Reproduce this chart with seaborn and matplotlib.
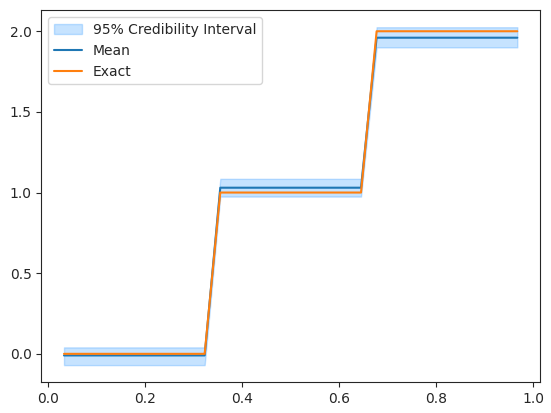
import matplotlib
matplotlib.use("Agg")
import matplotlib.pyplot as plt
import seaborn as sns
import pandas as pd

# grid points (i/31, i = 1..30)
x = [0.0323, 0.0645, 0.0968, 0.1290, 0.1613, 0.1935, 0.2258, 0.2581, 0.2903, 0.3226,
     0.3548, 0.3871, 0.4194, 0.4516, 0.4839, 0.5161, 0.5484, 0.5806, 0.6129, 0.6452,
     0.6774, 0.7097, 0.7419, 0.7742, 0.8065, 0.8387, 0.8710, 0.9032, 0.9355, 0.9677]
exact = [0] * 10 + [1] * 10 + [2] * 10
mean = [-0.01] * 10 + [1.03] * 10 + [1.96] * 10
lower = [-0.07] * 10 + [0.975] * 10 + [1.90] * 10
upper = [0.04] * 10 + [1.085] * 10 + [2.025] * 10

df = pd.DataFrame({"x": x, "Mean": mean, "Exact": exact})

sns.set_style("ticks")
fig, ax = plt.subplots(figsize=(5.51, 4.13), dpi=100)
ax.fill_between(x, lower, upper, color="#1e90ff", alpha=0.25,
                label="95% Credibility Interval")
sns.lineplot(data=df, x="x", y="Mean", ax=ax, color="#1f77b4", label="Mean")
sns.lineplot(data=df, x="x", y="Exact", ax=ax, color="#ff7f0e", label="Exact")
ax.set_xlabel("")
ax.set_ylabel("")
ax.set_xticks([0.0, 0.2, 0.4, 0.6, 0.8, 1.0])
ax.set_yticks([0.0, 0.5, 1.0, 1.5, 2.0])
ax.legend(loc="upper left")
fig.subplots_adjust(left=0.075, right=0.98, bottom=0.075, top=0.975)
fig.savefig("out.png", dpi=100)
